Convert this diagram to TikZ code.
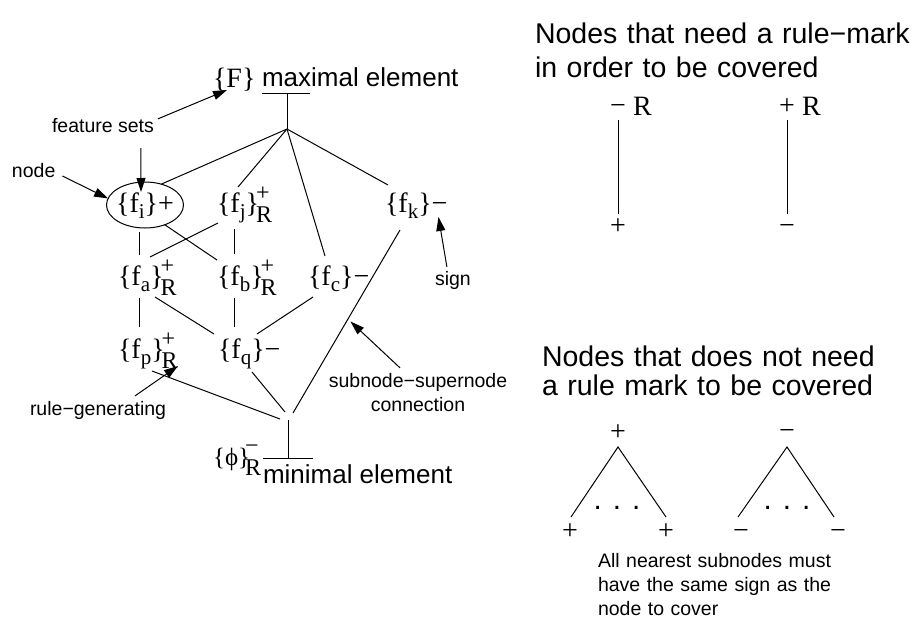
\documentclass[tikz,border=0pt]{standalone}
\usepackage{fontspec}
\setmainfont{Liberation Serif}
\setsansfont{Liberation Sans}
\usetikzlibrary{arrows.meta,shapes.geometric}
\newcommand\SF{\fontsize{28}{30}\selectfont}
\newcommand\sbx[1]{\raisebox{-6pt}{\fontsize{21}{21}\selectfont #1}}
\newcommand\mkx[3][-3pt]{\kern#1\rlap{\raisebox{12pt}{\fontsize{24}{24}\selectfont #2}}\raisebox{-10pt}{\fontsize{24}{24}\selectfont #3}}
\begin{document}
\begin{tikzpicture}[x=1pt,y=-1pt,
  every node/.style={inner sep=0pt, outer sep=0pt},
  lat/.style={anchor=base west, font=\SF, text height=29pt, text depth=13pt},
  ser/.style={anchor=base west, font=\SF},
  lbl/.style={anchor=base west, font=\fontsize{19.5}{24}\selectfont\sffamily},
  big/.style={anchor=base west, font=\fontsize{26}{30}\selectfont\sffamily},
  ttl/.style={anchor=base west, align=left, text width=380pt, font=\fontsize{28.5}{#1}\selectfont\sffamily},
  sgn/.style={font=\SF, text height=14pt, text depth=0pt, outer sep=6pt},
  dts/.style={anchor=base, font=\fontsize{29.7}{30}\selectfont\sffamily},
  ln/.style={line width=1pt},
  arr/.style={line width=1pt, -{Triangle[length=14pt,width=9pt]}},
]
\useasboundingbox (0,0) rectangle (916,621);

% ---- top element
\node[big] (maxl) at (262,86) {maximal element};
\node[ser] (F) at (213,87) {\{F\}};
\coordinate (tbar) at (287,93);
\coordinate (th) at (287,129);
\draw[ln] ([xshift=-25pt]tbar) -- ([xshift=23pt]tbar);
\draw[ln] (tbar) -- (th);

% ---- lattice nodes
\node[ellipse, draw, ln, minimum width=77pt, minimum height=46pt, inner xsep=-1.7pt,
      font=\SF, text height=14pt, text depth=0pt] (fi) at (145,205) {\{f\sbx{i}\}+};
\node[lat] (fj) at (217,212) {\{f\sbx{j}\}\mkx{+}{R}};
\node[lat] (fk) at (385,212) {\{f\sbx{k}\}−};
\node[lat] (fa) at (118,285) {\{f\sbx{a}\}\mkx{+}{R}};
\node[lat] (fb) at (217,285) {\{f\sbx{b}\}\mkx{+}{R}};
\node[lat] (fc) at (308,285) {\{f\sbx{c}\}−};
\node[lat] (fp) at (118,358) {\{f\sbx{p}\}\mkx{+}{R}};
\node[lat] (fq) at (218,358) {\{f\sbx{q}\}−};

% ---- bottom element
\coordinate (bh) at (288,420);
\coordinate (bbar) at (288,458);
\draw[ln] ([xshift=-25pt]bbar) -- ([xshift=25pt]bbar);
\draw[ln] (bbar) -- (bh);
\node[ser, font=\fontsize{25}{27}\selectfont] (phi) at (213,465) {\{ϕ\}\mkx[-5pt]{−}{R}};
\node[big] (minl) at (263,483) {minimal element};

% ---- lattice connections
\draw[ln] (th) -- (fi.52);
\draw[ln] (th) -- ([xshift=21pt,yshift=-4pt]fj.north west);
\draw[ln] (th) -- ([xshift=17pt]fc.north west);
\draw[ln] (th) -- ([xshift=3pt,yshift=-2pt]fk.north west);
\draw[ln] ([xshift=-6pt,yshift=-4pt]fi.south) -- ([xshift=21pt,yshift=1pt]fa.north west);
\draw[ln] (fi.-45) -- ([yshift=-4pt]fb.north west);
\draw[ln] ([xshift=1pt,yshift=2pt]fj.south west) -- ([xshift=32pt,yshift=-1pt]fa.north west);
\draw[ln] ([xshift=17pt,yshift=-4pt]fj.south west) -- ([xshift=17pt,yshift=2pt]fb.north west);
\draw[ln] ([xshift=15pt,yshift=-5pt]fk.south west) -- coordinate[pos=0.5] (kmid) ([xshift=5pt,yshift=7pt]bh);
\draw[ln] ([xshift=21pt]fa.south west) -- ([xshift=21pt,yshift=2pt]fp.north west);
\draw[ln] ([xshift=17pt]fb.south west) -- ([xshift=16pt,yshift=2pt]fq.north west);
\draw[ln] ([xshift=37pt,yshift=1pt]fa.south west) -- ([xshift=-4pt,yshift=-5pt]fq.north west);
\draw[ln] ([xshift=5pt,yshift=1pt]fc.south west) -- ([xshift=39pt,yshift=-5pt]fq.north west);
\draw[ln] ([xshift=34pt]fp.south west) -- ([xshift=-8pt,yshift=1pt]bh);
\draw[ln] ([xshift=34pt,yshift=-1pt]fq.south west) -- ([xshift=-3pt,yshift=8pt]bh);

% ---- annotations
\node[lbl] (fs) at (52,132) {feature sets};
\draw[arr] ([xshift=4pt,yshift=-1pt]fs.north east) -- ([xshift=14pt,yshift=-3pt]F.base west);
\draw[arr] ([xshift=38pt,yshift=-16pt]fs.south) -- ([xshift=-4pt,yshift=-10pt]fi.north);
\node[lbl] (nd) at (12,177) {node};
\draw[arr] ([xshift=7pt,yshift=1pt]nd.base east) -- (fi.170);
\node[lbl] (sg) at (435,285) {sign};
\draw[arr] ([xshift=-6pt,yshift=4pt]sg.north) -- ([xshift=-9pt,yshift=8pt]fk.south east);
\node[lbl, anchor=base, align=center, text width=200pt] (ss) at (418,387) {subnode−supernode\\connection};
\draw[arr] ([xshift=-18pt,yshift=5pt]ss.north) -- ([xshift=4pt]kmid);
\node[lbl] (rg) at (30,415) {rule−generating};
\draw[arr] ([xshift=37pt,yshift=5pt]rg.north) -- ([xshift=60pt,yshift=5pt]fp.south west);

% ---- right: rule-mark needed
\node[ttl=34] (t1) at (535,43) {Nodes that need a rule−mark\\in order to be covered};
\node[sgn] (m1) at (618,107) {−};
\node[ser] (m1R) at (633,115) {R};
\node[sgn] (p1) at (618,227) {+};
\draw[ln] (m1) -- (p1);
\node[sgn] (p2) at (787,107) {+};
\node[ser] (p2R) at (802,115) {R};
\node[sgn] (m2) at (787,227) {−};
\draw[ln] (p2) -- (m2);

% ---- right: no rule mark needed
\node[ttl=29] (t2) at (542,366) {Nodes that does not need\\a rule mark to be covered};
\node[sgn] (a1) at (618,433) {+};
\node[sgn] (b1) at (570,532) {+};
\node[sgn] (c1) at (666,532) {+};
\draw[ln] ([xshift=1pt,yshift=2pt]b1.north) -- ([yshift=-1pt]a1.south) -- ([yshift=2pt]c1.north);
\node[dts] (d1) at (617,509) {. . .};
\node[sgn] (a2) at (787,432) {−};
\node[sgn] (b2) at (741,532) {−};
\node[sgn] (c2) at (838,532) {−};
\draw[ln] ([xshift=-3pt,yshift=2pt]b2.north) -- ([yshift=-2pt]a2.south) -- ([xshift=-4pt,yshift=2pt]c2.north);
\node[dts] (d2) at (787,509) {. . .};
\node[lbl, text width=250pt, align=left] (note) at (598,567) {All nearest subnodes must\\have the same sign as the\\node to cover};
\end{tikzpicture}
\end{document}
